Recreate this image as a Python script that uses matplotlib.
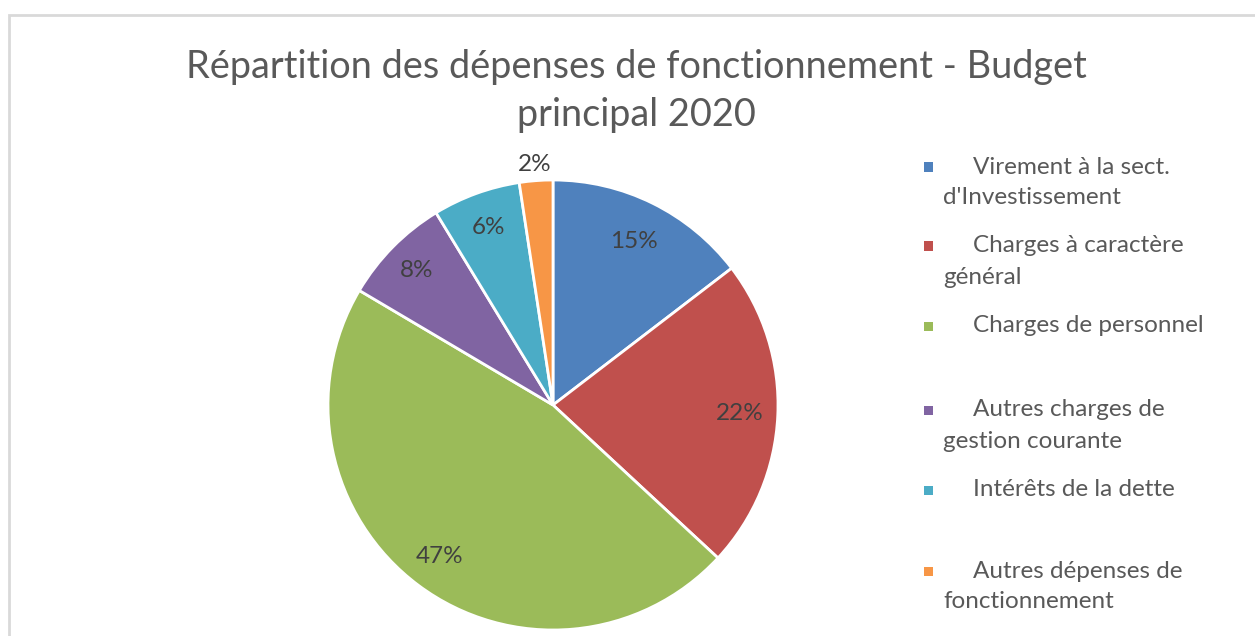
import numpy as np
import matplotlib
matplotlib.use("Agg")
import matplotlib.pyplot as plt
from matplotlib.patches import Rectangle

title = "Répartition des dépenses de fonctionnement - Budget\nprincipal 2020"
categories = [
    "Virement à la sect.\nd'Investissement",
    "Charges à caractère\ngénéral",
    "Charges de personnel",
    "Autres charges de\ngestion courante",
    "Intérêts de la dette",
    "Autres dépenses de\nfonctionnement",
]
values = [14.6, 22.3, 46.6, 7.8, 6.3, 2.4]
colors = ["#4F81BD", "#C0504D", "#9BBB59", "#8064A2", "#4BACC6", "#F79646"]
legend_y = [167, 246, 326, 410, 490, 571]  # pixel rows of legend entries

W, H = 1255, 636
FONT = "Lato"
fig = plt.figure(figsize=(W / 100, H / 100), dpi=100)

# frame
fig.patches.append(Rectangle((9 / W, -0.1), 1.2, (H - 15) / H + 0.1, transform=fig.transFigure,
                             fill=False, edgecolor="#d9d9d9", linewidth=2))

cx, cy, r = 553, 405, 225
ax = fig.add_axes([(cx - r) / W, (H - cy - r) / H, 2 * r / W, 2 * r / H])
wedges, _ = ax.pie(values, colors=colors, startangle=90, counterclock=False, radius=1,
                   wedgeprops=dict(edgecolor="white", linewidth=2))
ax.set_xlim(-1, 1)
ax.set_ylim(-1, 1)
ax.set_aspect("equal")
ax.axis("off")

total = sum(values)
cum = 0
label_r = [0.81, 0.83, 0.84, 0.85, 0.84, 1.07]
for v, lr in zip(values, label_r):
    mid = 90 - (cum + v / 2) / total * 360
    cum += v
    a = np.deg2rad(mid)
    ax.text(lr * np.cos(a), lr * np.sin(a), f"{round(v / total * 100):.0f}%", ha="center", va="center",
            fontsize=17.5, color="#404040", family=FONT)

lines_t = title.split("\n")
fig.text(0.5075, 1 - 67 / H, lines_t[0], ha="center", va="center",
         fontsize=27.3, color="#595959", family=FONT)
fig.text(0.5075, 1 - 115 / H, lines_t[1], ha="center", va="center",
         fontsize=27.3, color="#595959", family=FONT)

for lab, col, y in zip(categories, colors, legend_y):
    fig.patches.append(Rectangle(((928 - 4.5) / W, (H - y - 4.5) / H), 9 / W, 9 / H,
                                 transform=fig.transFigure, facecolor=col, edgecolor="none"))
    lines = lab.split("\n")
    for i, ln in enumerate(lines):
        x = 973 if i == 0 else 943
        fig.text(x / W, 1 - (y + 31 * i) / H, ln, ha="left", va="center", fontsize=17.5,
                 color="#595959", family=FONT)

fig.savefig("out.png", dpi=100, facecolor="white")
